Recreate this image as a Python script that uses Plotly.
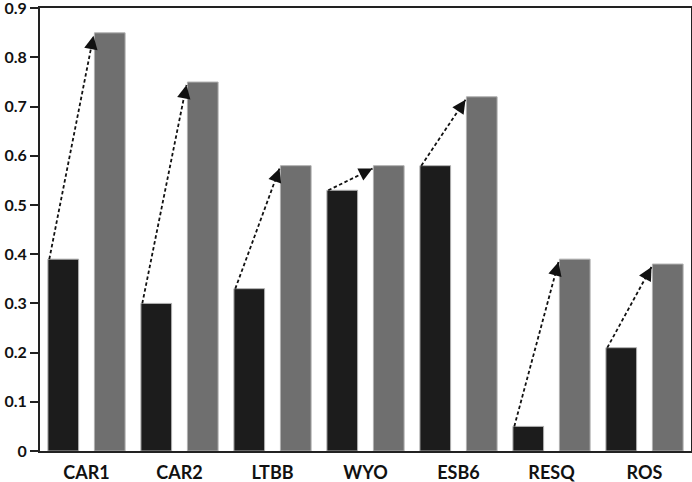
import math
import plotly.graph_objects as go

categories = ["CAR1", "CAR2", "LTBB", "WYO", "ESB6", "RESQ", "ROS"]
before = [0.39, 0.30, 0.33, 0.53, 0.58, 0.05, 0.21]
after = [0.85, 0.75, 0.58, 0.58, 0.72, 0.39, 0.38]
y_ticks = [0, 0.1, 0.2, 0.3, 0.4, 0.5, 0.6, 0.7, 0.8, 0.9]
y_tick_text = ["0", "0.1", "0.2", "0.3", "0.4", "0.5", "0.6", "0.7", "0.8", "0.9"]

xs = list(range(len(categories)))

fig = go.Figure()
fig.add_trace(go.Bar(x=xs, y=before, marker=dict(color="#1c1c1c", line=dict(color="#b0b0b0", width=1)),
                     showlegend=False))
fig.add_trace(go.Bar(x=xs, y=after, marker=dict(color="#6f6f6f", line=dict(color="#b0b0b0", width=1)),
                     showlegend=False))

W, H = 692, 482
ml, mr, mt, mb = 40, 1, 8, 31
px_x = (W - ml - mr) / 7.0
px_y = (H - mt - mb) / 0.9

for i, (b, a) in enumerate(zip(before, after)):
    x0, y0 = i - 0.40, b
    x1, y1 = i + 0.075, a - 0.006
    fig.add_shape(type="line", x0=x0, y0=y0, x1=x1, y1=y1, xref="x", yref="y",
                  line=dict(color="#111111", width=1.8, dash="3.5px,2.5px"))
    dxp = (x1 - x0) * px_x
    dyp = -(y1 - y0) * px_y
    L = math.hypot(dxp, dyp)
    ux, uy = dxp / L, dyp / L
    tail = 14
    fig.add_annotation(x=x1, y=y1, xref="x", yref="y", ax=-ux * tail, ay=-uy * tail,
                       showarrow=True, arrowhead=2, arrowsize=1.5, arrowwidth=1.8,
                       arrowcolor="#111111", text="")

fig.update_layout(
    width=W, height=H,
    margin=dict(l=ml, r=mr, t=mt, b=mb),
    paper_bgcolor="white", plot_bgcolor="white",
    barmode="group", bargap=0.0, bargroupgap=0.34,
    font=dict(family="Lato", color="#111111"),
    xaxis=dict(range=[-0.5, 6.5], tickvals=xs, ticktext=categories,
               tickfont=dict(size=18, weight="bold", family="Lato"),
               ticklabelstandoff=4, ticklabeloverflow="allow",
               showline=True, linecolor="#222222", linewidth=2, mirror=True,
               ticks="", showgrid=False, zeroline=False, fixedrange=True, automargin=False),
    yaxis=dict(range=[0, 0.9005], tickvals=y_ticks, ticktext=y_tick_text,
               tickfont=dict(size=16, weight="bold", family="Lato"),
               ticklabeloverflow="allow",
               showline=True, linecolor="#222222", linewidth=2, mirror=True,
               ticks="outside", ticklen=8, tickwidth=1.5, tickcolor="#222222",
               showgrid=False, zeroline=False, fixedrange=True, automargin=False),
)

fig.write_html("out.html", config={"displayModeBar": False},
               post_script="document.body.style.margin='0';document.body.style.overflow='hidden';")
